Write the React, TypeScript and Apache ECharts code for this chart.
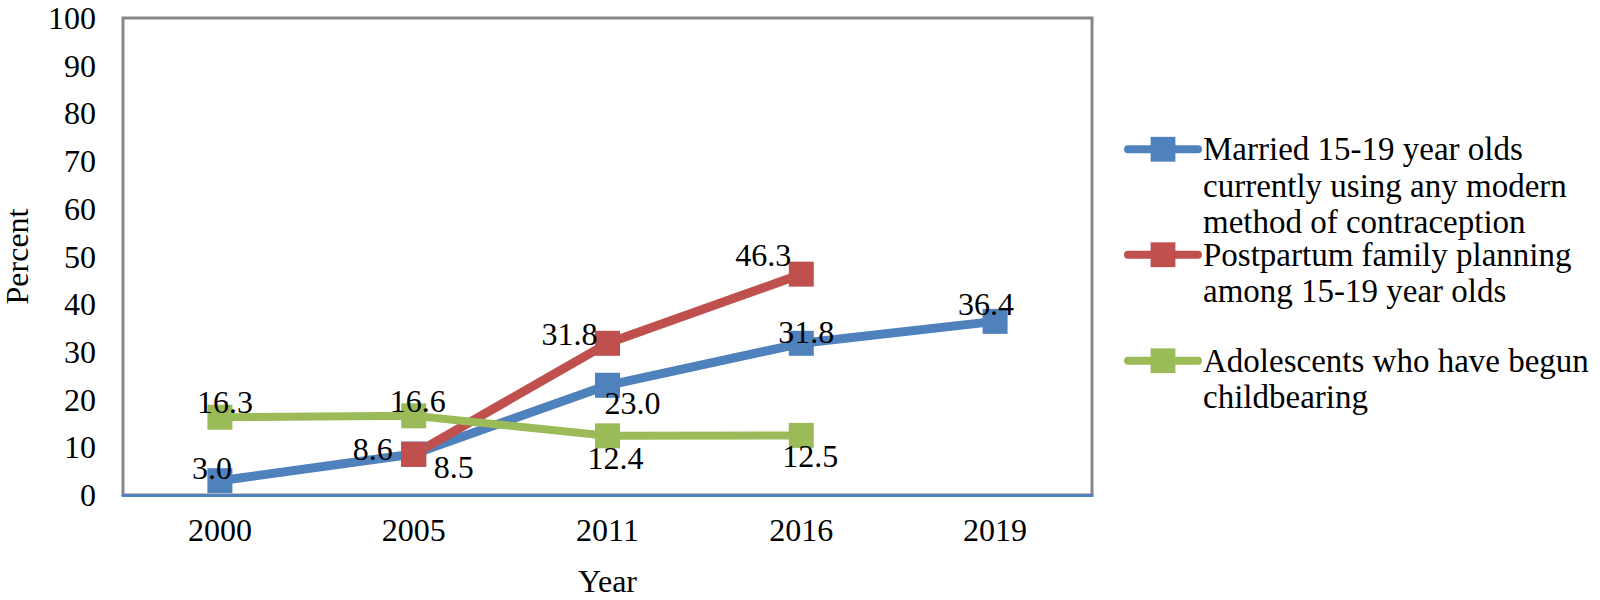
import React, { useEffect, useRef } from "react";
import * as echarts from "echarts";

const years = ["2000", "2005", "2011", "2016", "2019"];
const seriesNames = [
  "Married 15-19 year olds\ncurrently using any modern\nmethod of contraception",
  "Postpartum family planning\namong 15-19 year olds",
  "Adolescents who have begun\nchildbearing",
];
const marriedUsing = [3.0, 8.6, 23.0, 31.8, 36.4];
const postpartumFP = [null, 8.5, 31.8, 46.3, null];
const begunChildbearing = [16.3, 16.6, 12.4, 12.5, null];
const yTicks = [0, 10, 20, 30, 40, 50, 60, 70, 80, 90, 100];

const colors = ["#4F81BD", "#C0504D", "#9BBB59"];
// label offsets (dx, dy) relative to marker centre, per point
const labelOffsets = [
  [[-8, -13], [-41, -5], [25, 18], [5, -11], [-9, -17]],
  [[0, 0], [40, 13], [-38, -9], [-38, -19], [0, 0]],
  [[5, -15], [4, -15], [8, 22], [9, 21], [0, 0]],
];

const FONT = "Liberation Serif";

export default function App() {
  const ref = useRef<HTMLDivElement>(null);
  useEffect(() => {
    document.body.style.margin = "0";
    if (!ref.current) return;
    const chart = echarts.init(ref.current, undefined, { renderer: "svg" });
    const dataSets = [marriedUsing, postpartumFP, begunChildbearing];
    const lineCounts = seriesNames.map((n) => n.split("\n").length);
    const LH = 36.5;
    const iconCenters = [149, 255, 361];
    const option: any = {
      animation: false,
      textStyle: { fontFamily: FONT },
      grid: {
        left: 123,
        right: 508,
        top: 18,
        bottom: 105,
        outerBoundsMode: "none",
        containLabel: false,
        show: true,
        borderColor: "#878787",
        borderWidth: 3,
        backgroundColor: "transparent",
      },
      legend: seriesNames.map((name, i) => ({
        data: [name],
        orient: "vertical",
        left: 1124,
        top: Math.round(iconCenters[i] - ((2 * lineCounts[i] - 1) * LH) / 2),
        padding: 0,
        itemWidth: 70,
        itemHeight: 31,
        lineStyle: { width: 8, cap: "round" },
        selectedMode: false,
        formatter: (n: string) => "\n".repeat(lineCounts[i] - 1) + n,
        textStyle: {
          fontFamily: FONT,
          fontSize: 33,
          lineHeight: LH,
          color: "#000",
        },
      })),
      xAxis: {
        type: "category",
        data: years,
        boundaryGap: true,
        name: "Year",
        nameLocation: "middle",
        nameGap: 70,
        nameTextStyle: { fontFamily: FONT, fontSize: 32, color: "#000" },
        axisLine: { show: true, lineStyle: { color: "#4F81BD", width: 3 } },
        axisTick: { show: false },
        axisLabel: { fontFamily: FONT, fontSize: 32, color: "#000", margin: 19 },
        splitLine: { show: false },
      },
      yAxis: {
        type: "value",
        min: 0,
        max: 100,
        interval: 10,
        name: "Percent",
        nameLocation: "middle",
        nameGap: 90,
        nameTextStyle: { fontFamily: FONT, fontSize: 32, color: "#000" },
        axisLine: { show: false },
        axisTick: { show: false },
        splitLine: { show: false },
        axisLabel: {
          fontFamily: FONT,
          fontSize: 32,
          color: "#000",
          margin: 27,
          formatter: (v: number) => (yTicks.includes(v) ? String(v) : ""),
        },
      },
      series: dataSets.map((vals, si) => ({
        name: seriesNames[si],
        type: "line",
        data: vals.map((v, i) =>
          v === null
            ? null
            : {
                value: v,
                label: {
                  show: true,
                  position: "inside",
                  offset: labelOffsets[si][i],
                },
              }
        ),
        connectNulls: false,
        symbol: "rect",
        symbolSize: 25,
        itemStyle: { color: colors[si] },
        lineStyle: { color: colors[si], width: si === 2 ? 8 : 9 },
        label: {
          show: true,
          fontFamily: FONT,
          fontSize: 32,
          color: "#000",
          formatter: (p: any) => Number(p.value).toFixed(1),
        },
        emphasis: { disabled: true },
      })),
    };
    chart.setOption(option);
    return () => chart.dispose();
  }, []);
  return <div ref={ref} style={{ width: 1600, height: 600 }} />;
}
